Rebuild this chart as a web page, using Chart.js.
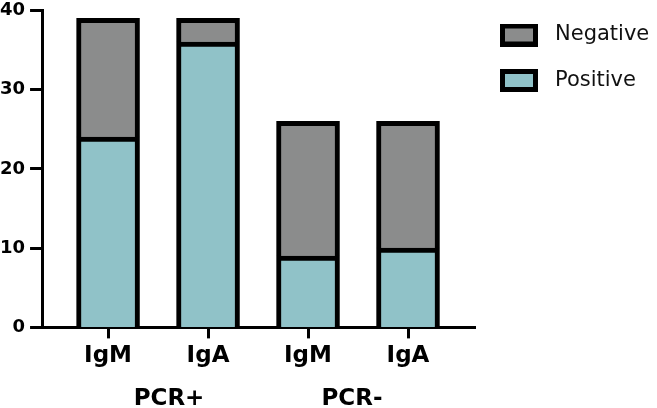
<!DOCTYPE html>
<html>
<head>
<meta charset="utf-8">
<script src="https://cdn.jsdelivr.net/npm/chart.js@4/dist/chart.umd.min.js"></script>
<style>
  html, body { margin: 0; padding: 0; background: #ffffff; }
  #wrap { width: 657px; height: 408px; }
</style>
</head>
<body>
<div id="wrap"><canvas id="c" width="657" height="408"></canvas></div>
<script>
// ---- data ----
const categories = ['IgM', 'IgA', 'IgM', 'IgA'];
const groupLabels = ['PCR+', 'PCR-'];
const groupCenters = [0.61, 2.44];        // x position (in category units) of group captions
const positiveValues = [24, 36, 9, 10];
const negativeValues = [15, 3, 17, 16];
const yTicks = [0, 10, 20, 30, 40];

const FONT = 'DejaVu Sans';
const colPositive = '#90c2c8';
const colNegative = '#8b8c8c';

function swatch(fill) {
  const c = document.createElement('canvas');
  c.width = 44; c.height = 23;
  const g = c.getContext('2d');
  g.fillStyle = '#000';
  g.fillRect(0, 0, 38, 23);
  g.fillStyle = fill;
  g.fillRect(5, 5, 28, 13);
  return c;
}

const groupLabelPlugin = {
  id: 'groupLabels',
  afterDraw(chart) {
    const ctx = chart.ctx;
    const xs = chart.scales.x;
    ctx.save();
    ctx.font = 'bold 23px "' + FONT + '"';
    ctx.fillStyle = '#000';
    ctx.textAlign = 'center';
    ctx.textBaseline = 'middle';
    groupLabels.forEach((t, i) => {
      ctx.fillText(t, xs.getPixelForValue(groupCenters[i]), 399);
    });
    ctx.restore();
  }
};

new Chart(document.getElementById('c'), {
  type: 'bar',
  data: {
    datasets: [
      {
        label: 'Positive',
        data: positiveValues.map((v, i) => ({ x: i, y: v })),
        backgroundColor: colPositive,
        borderColor: '#000',
        borderWidth: 5,
        barThickness: 63
      },
      {
        label: 'Negative',
        data: negativeValues.map((v, i) => ({ x: i, y: v })),
        backgroundColor: colNegative,
        borderColor: '#000',
        borderWidth: 5,
        barThickness: 63
      }
    ]
  },
  options: {
    responsive: false,
    animation: false,
    layout: { padding: { top: 0, left: -5, right: 0, bottom: 34 } },
    plugins: {
      tooltip: { enabled: false },
      legend: {
        position: 'right',
        align: 'start',
        reverse: true,
        maxWidth: 182,
        labels: {
          usePointStyle: true,
          pointStyleWidth: 45,
          padding: 24.5,
          color: '#111',
          font: { family: FONT, size: 21 },
          generateLabels(chart) {
            const items = Chart.defaults.plugins.legend.labels.generateLabels(chart);
            items.forEach(it => { it.pointStyle = swatch(it.fillStyle); });
            return items;
          }
        }
      }
    },
    scales: {
      x: {
        type: 'linear',
        stacked: true,
        offset: false,
        min: -0.66,
        max: 3.67,
        z: 1,
        afterBuildTicks(scale) {
          scale.ticks = categories.map((_, i) => ({ value: i }));
        },
        ticks: {
          autoSkip: false,
          maxRotation: 0,
          padding: 4,
          color: '#000',
          font: { family: FONT, size: 23, weight: 'bold' },
          callback: (v) => categories[v]
        },
        grid: { offset: false, drawOnChartArea: false, tickLength: 11, tickWidth: 3, tickColor: '#000' },
        border: { color: '#000', width: 3 }
      },
      y: {
        stacked: true,
        min: 0,
        max: 40,
        z: 1,
        afterBuildTicks(scale) {
          scale.ticks = yTicks.map(v => ({ value: v }));
        },
        ticks: {
          padding: 5,
          color: '#000',
          font: { family: FONT, size: 18, weight: 'bold', lineHeight: 0.6 }
        },
        grid: { drawOnChartArea: false, tickLength: 12, tickWidth: 3, tickColor: '#000' },
        border: { color: '#000', width: 3 }
      }
    }
  },
  plugins: [groupLabelPlugin]
});
</script>
</body>
</html>
